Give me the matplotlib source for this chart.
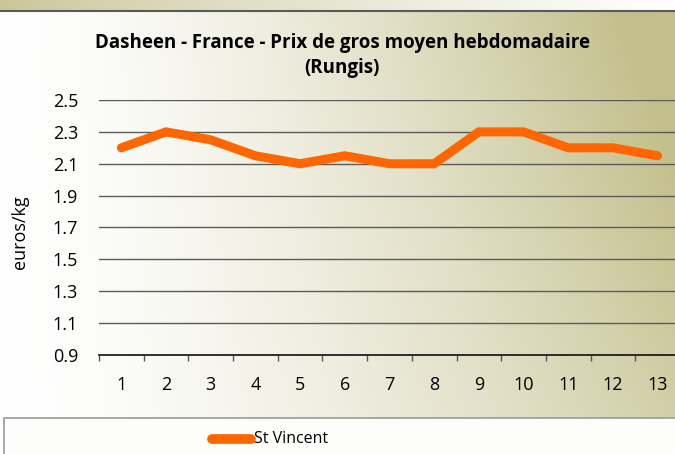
import numpy as np
import matplotlib.pyplot as plt
from matplotlib.patches import Rectangle
from matplotlib.lines import Line2D

plt.rcParams['font.family'] = ['Open Sans', 'DejaVu Sans']

# data
weeks = list(range(1, 14))
st_vincent = [2.2, 2.3, 2.25, 2.15, 2.1, 2.15, 2.1, 2.1, 2.3, 2.3, 2.2, 2.2, 2.15]
yticks = [0.9, 1.1, 1.3, 1.5, 1.7, 1.9, 2.1, 2.3, 2.5]

W, H = 675, 454
fig = plt.figure(figsize=(W / 100, H / 100), dpi=100)

# background gradient (white left -> khaki top right)
bg = fig.add_axes([0, 0, 1, 1], zorder=0)
xx, yy = np.meshgrid(np.linspace(0, 1, 300), np.linspace(0, 1, 200))
t = np.clip(xx ** 1.5 * (0.72 + 0.42 * yy), 0, 1)
white = np.array([1.0, 1.0, 1.0])
khaki = np.array([0xC3, 0xBF, 0x8C]) / 255
img = white[None, None, :] * (1 - t[..., None]) + khaki[None, None, :] * t[..., None]
bg.imshow(img, extent=[0, 1, 0, 1], origin='lower', aspect='auto')

# top band, reversed gradient
band = 1 - np.linspace(0, 1, 300) ** 0.8
band_img = white[None, None, :] * (1 - band[None, :, None] * 0.9) + khaki[None, None, :] * band[None, :, None] * 0.9
bg.imshow(band_img, extent=[0, 1, 1 - 10 / H, 1], origin='lower', aspect='auto')
bg.plot([0, 1], [1 - 10.5 / H, 1 - 10.5 / H], color='#5a5a5a', lw=1.5)
bg.set_xlim(0, 1)
bg.set_ylim(0, 1)
bg.axis('off')

# legend box
bg.add_patch(Rectangle((4 / W, -0.01), 1.0, (454 - 418) / H + 0.01, facecolor='#fdfdfc',
                       edgecolor='#9a9a9a', lw=1.2, zorder=3))

ax = fig.add_axes([99 / W, 1 - 355 / H, 581 / W, 255 / H], zorder=1)
ax.patch.set_alpha(0)
ax.plot(weeks, st_vincent, color='#FF6600', lw=6.5, solid_capstyle='round',
        solid_joinstyle='miter', zorder=3, label='St Vincent')
ax.set_xlim(0.5, 13.5)
ax.set_ylim(0.9, 2.5)
ax.set_yticks(yticks)
ax.set_yticklabels([f'{v:.1f}' for v in yticks])
ax.set_xticks(weeks)
ax.set_xticks(np.arange(0.5, 14, 1), minor=True)
ax.tick_params(axis='x', which='major', length=0, pad=15, labelsize=13)
ax.tick_params(axis='x', which='minor', length=4, width=1, color='#555555', direction='out')
ax.tick_params(axis='y', length=0, pad=15, labelsize=13)
ax.grid(axis='y', color='#5a5a5a', lw=1)
ax.set_axisbelow(True)
for s in ['top', 'right', 'left']:
    ax.spines[s].set_visible(False)
ax.spines['bottom'].set_color('#111111')
ax.spines['bottom'].set_linewidth(1.2)

fig.text(342 / W, 1 - 43 / H, 'Dasheen - France - Prix de gros moyen hebdomadaire',
         ha='center', va='center', fontsize=13.5, fontweight='bold')
fig.text(342 / W, 1 - 68 / H, '(Rungis)', ha='center', va='center', fontsize=13.5, fontweight='bold')
fig.text(20 / W, 1 - 232 / H, 'euros/kg', rotation=90, ha='center', va='center', fontsize=13)

# legend entry
fig.add_artist(Line2D([212 / W, 251 / W], [1 - 439 / H, 1 - 439 / H], color='#FF6600', lw=7,
                      solid_capstyle='round', zorder=5))
fig.text(254 / W, 1 - 439 / H, 'St Vincent', ha='left', va='center', fontsize=11.5, zorder=5)

fig.savefig('out.png', dpi=100)
